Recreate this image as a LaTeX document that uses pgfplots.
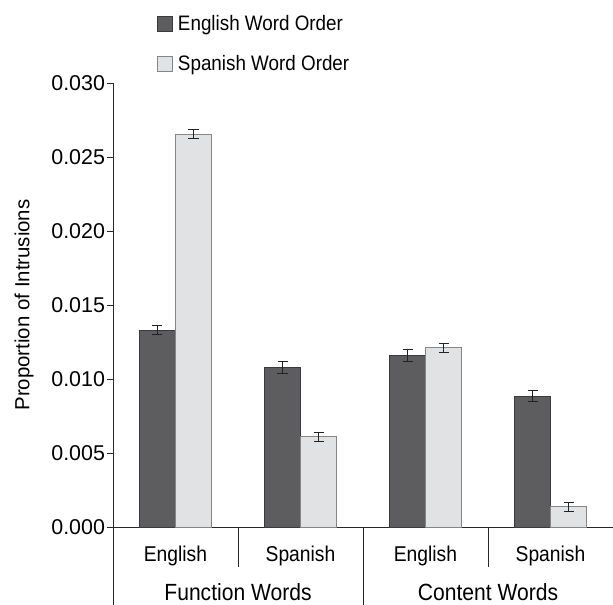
\documentclass[border=0pt]{standalone}
\usepackage{pgfplots}
\pgfplotsset{compat=1.18}
\usepackage{fontspec}
\setmainfont{Liberation Sans}[FakeStretch=0.9]
\newfontfamily\plainsans{Liberation Sans}
\definecolor{darkbar}{HTML}{5D5D5F}
\definecolor{darkedge}{HTML}{3A3A3A}
\definecolor{lightbar}{HTML}{E1E2E4}
\definecolor{lightedge}{HTML}{858585}
\definecolor{errc}{HTML}{222222}
\begin{document}
\begin{tikzpicture}
\begin{axis}[
  scale only axis, width=500bp, height=444bp,
  xmin=-0.5, xmax=3.5, ymin=0, ymax=0.030,
  ybar=0pt, bar width=36bp,
  axis x line=bottom, axis y line=left,
  axis line style={-, line width=0.8bp, black!85},
  xtick={0,1,2,3}, xticklabels={English,Spanish,English,Spanish},
  x tick style={draw=none}, major x tick style={draw=none},
  xticklabel style={font=\fontsize{21.5}{24}\selectfont, yshift=-9bp},
  ytick={0,0.005,0.010,0.015,0.020,0.025,0.030},
  tick align=outside, major tick length=6bp,
  y tick style={line width=0.8bp, black!85},
  /pgf/number format/assume math mode=true,
  yticklabel style={font=\plainsans\fontsize{21.5}{24}\selectfont, xshift=1.5bp, /pgf/number format/.cd, fixed, fixed zerofill, precision=3},
  scaled y ticks=false,
  ylabel={Proportion of Intrusions},
  ylabel style={font=\plainsans\fontsize{20.5}{24}\selectfont, at={(axis description cs:-0.178,0.5)}, anchor=center},
  clip=false,
  legend cell align=left,
  legend style={at={(axis description cs:0.082,1)}, anchor=south west, draw=none, fill=none,
    font=\fontsize{21}{24}\selectfont, row sep=19bp, yshift=7bp},
  legend image code/.code={\draw[#1] (0bp,-7.5bp) rectangle (15bp,7.5bp); \path (18bp,0bp);},
]
\addplot[fill=darkbar, draw=darkedge, line width=0.8bp,
  error bars/.cd, y dir=both, y explicit,
  error bar style={line width=1bp, errc},
  error mark options={rotate=90, mark size=5bp, line width=1bp, errc}]
  coordinates {
  (0,0.01331) +- (0,0.0003)
  (1,0.01077) +- (0,0.0004)
  (2,0.01160) +- (0,0.0004)
  (3,0.00885) +- (0,0.0004)
};
\addplot[fill=lightbar, draw=lightedge, line width=0.8bp,
  error bars/.cd, y dir=both, y explicit,
  error bar style={line width=1bp, errc},
  error mark options={rotate=90, mark size=5bp, line width=1bp, errc}]
  coordinates {
  (0,0.02655) +- (0,0.0003)
  (1,0.00610) +- (0,0.0003)
  (2,0.01211) +- (0,0.0003)
  (3,0.00137) +- (0,0.0003)
};
\legend{English Word Order, Spanish Word Order}
\draw[line width=0.8bp, black!85] (axis cs:-0.5,0) -- ++(0pt,-78bp);
\draw[line width=0.8bp, black!85] (axis cs:0.5,0) -- ++(0pt,-40bp);
\draw[line width=0.8bp, black!85] (axis cs:1.5,0) -- ++(0pt,-78bp);
\draw[line width=0.8bp, black!85] (axis cs:2.5,0) -- ++(0pt,-40bp);
\node[font=\fontsize{23.5}{26}\selectfont] at ([yshift=-65bp]axis cs:0.5,0) {Function Words};
\node[font=\fontsize{23.5}{26}\selectfont] at ([yshift=-65bp]axis cs:2.5,0) {Content Words};
\coordinate (ll) at (rel axis cs:0,0);
\end{axis}
\pgfresetboundingbox
\path ([xshift=-113bp,yshift=-78bp]ll) rectangle ([xshift=500bp,yshift=527bp]ll);
\end{tikzpicture}
\end{document}
